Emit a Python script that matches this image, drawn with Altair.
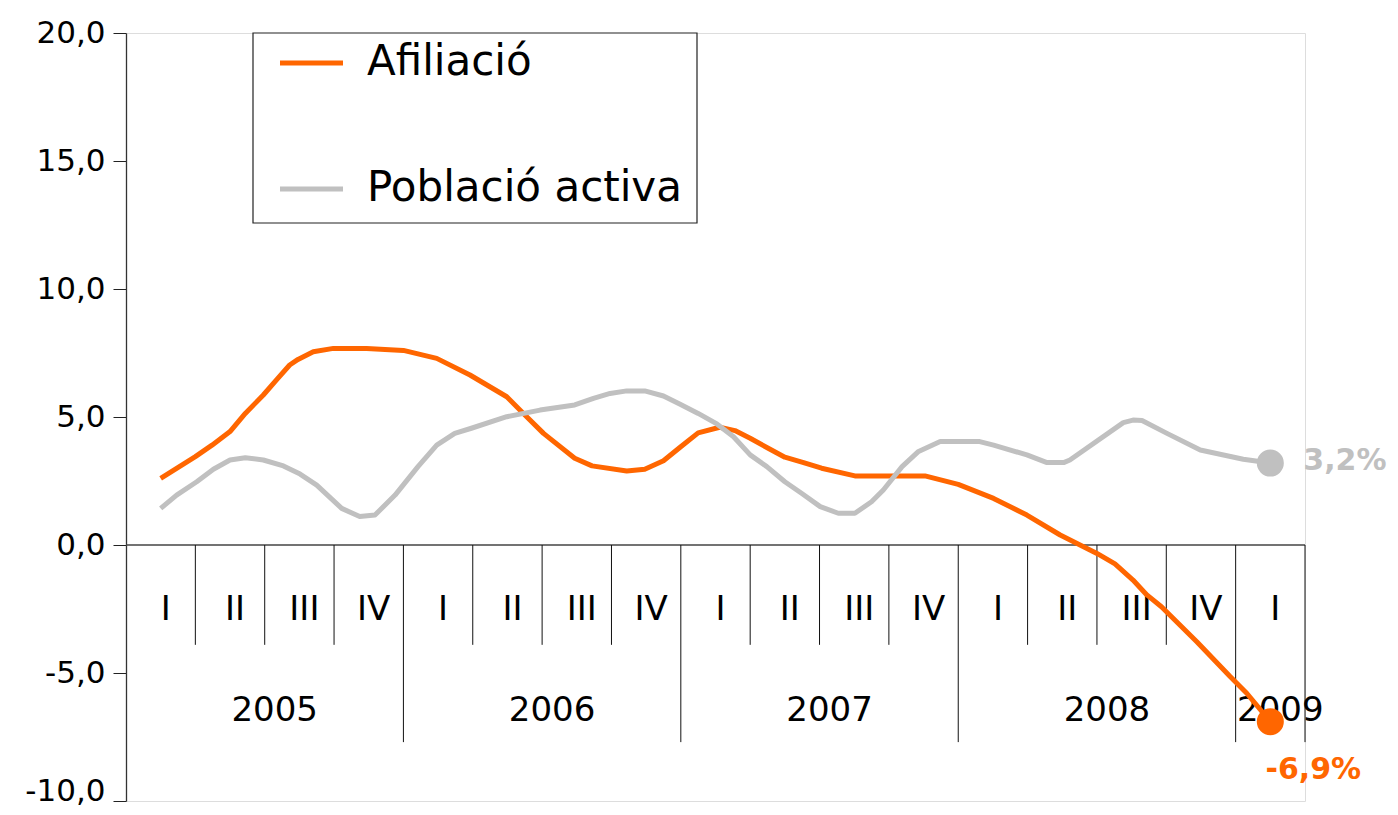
import altair as alt
import pandas as pd

# ---- data (time in quarters from 2005-Q1 start; value = % variation) ----
afil_t = [0.50, 1.00, 1.24, 1.50, 1.72, 1.98, 2.17, 2.36, 2.48, 2.70, 2.99, 3.47,
          4.00, 4.48, 4.96, 5.49, 5.73, 6.02, 6.47, 6.72, 7.22, 7.48, 7.75, 7.99,
          8.25, 8.56, 8.78, 9.00, 9.26, 9.50, 9.77, 10.03, 10.51, 11.52, 12.00,
          12.51, 12.99, 13.47, 14.00, 14.26, 14.52, 14.72, 14.93, 15.44, 15.92,
          16.16, 16.50]
afil_v = [2.60, 3.45, 3.90, 4.43, 5.14, 5.86, 6.45, 7.03, 7.25, 7.55, 7.68, 7.68,
          7.60, 7.29, 6.64, 5.79, 5.14, 4.36, 3.39, 3.09, 2.89, 2.96, 3.29, 3.82,
          4.38, 4.60, 4.47, 4.17, 3.78, 3.43, 3.22, 3.00, 2.70, 2.70, 2.37,
          1.82, 1.17, 0.39, -0.33, -0.74, -1.37, -1.95, -2.41, -3.78, -5.14,
          -5.79, -6.90]

pob_t = [0.50, 0.73, 1.02, 1.26, 1.50, 1.72, 1.98, 2.27, 2.51, 2.75, 3.11, 3.37,
         3.59, 3.88, 4.21, 4.48, 4.74, 4.98, 5.49, 5.97, 6.47, 6.74, 6.98, 7.22,
         7.48, 7.75, 7.99, 8.25, 8.52, 8.76, 9.00, 9.24, 9.50, 9.74, 10.01, 10.27,
         10.51, 10.75, 10.92, 11.19, 11.42, 11.74, 12.31, 12.51, 12.99, 13.28,
         13.52, 13.61, 14.38, 14.52, 14.65, 15.01, 15.49, 16.11, 16.50]
pob_v = [1.43, 1.95, 2.47, 2.96, 3.32, 3.41, 3.32, 3.09, 2.77, 2.34, 1.43, 1.11,
         1.17, 1.95, 3.06, 3.90, 4.36, 4.56, 5.01, 5.27, 5.47, 5.73, 5.92, 6.02,
         6.02, 5.82, 5.50, 5.14, 4.73, 4.23, 3.52, 3.06, 2.47, 2.02, 1.50, 1.24,
         1.24, 1.69, 2.15, 3.06, 3.64, 4.04, 4.04, 3.90, 3.52, 3.22,
         3.22, 3.32, 4.78, 4.88, 4.86, 4.36, 3.71, 3.35, 3.20]

series_names = ["Afiliació", "Població activa"]
series_colors = ["#FF6600", "#C0C0C0"]
end_labels = ["-6,9%", "3,2%"]

quarter_labels = ["I", "II", "III", "IV"] * 4 + ["I"]
year_labels = ["2005", "2006", "2007", "2008", "2009"]
year_lengths = [4, 4, 4, 4, 1]
y_ticks = [-10, -5, 0, 5, 10, 15, 20]

FONT = "DejaVu Sans"

# ---- tables ----
lines_df = pd.concat([
    pd.DataFrame({"t": afil_t, "v": afil_v, "serie": series_names[0]}),
    pd.DataFrame({"t": pob_t, "v": pob_v, "serie": series_names[1]}),
], ignore_index=True)

end_df = pd.DataFrame({
    "t": [afil_t[-1], pob_t[-1]],
    "v": [afil_v[-1], pob_v[-1]],
    "serie": series_names,
    "label": end_labels,
})

n_q = len(quarter_labels)
year_bounds = [0]
for L in year_lengths:
    year_bounds.append(year_bounds[-1] + L)

sep_rows = []
for k in range(1, n_q + 1):
    long_ = k in year_bounds
    sep_rows.append({"t": k, "y0": 0.0, "y1": -7.7 if long_ else -3.9})
sep_df = pd.DataFrame(sep_rows)

qlab_df = pd.DataFrame({"t": [k + 0.5 for k in range(n_q)], "label": quarter_labels, "y": -2.54})
ylab_df = pd.DataFrame({
    "t": [(year_bounds[i] + year_bounds[i + 1]) / 2 for i in range(len(year_labels))],
    "label": year_labels, "y": -6.48,
})
axis0_df = pd.DataFrame({"t": [0], "t2": [n_q], "y": [0]})

x_scale = alt.Scale(domain=[0, n_q], nice=False, zero=False)
y_scale = alt.Scale(domain=[-10, 20], nice=False)
color_scale = alt.Scale(domain=series_names, range=series_colors)

X = alt.X("t:Q", scale=x_scale, axis=None)

# zero line with the y axis on it
base_axis = alt.Chart(axis0_df).mark_rule(color="#444", strokeWidth=1.3).encode(
    x=X, x2="t2:Q",
    y=alt.Y("y:Q", scale=y_scale, axis=alt.Axis(
        values=y_ticks, title=None, grid=False,
        labelExpr="(datum.value < 0 ? '-' : '') + replace(format(abs(datum.value), '.1f'), '.', ',')",
        labelFont=FONT, labelFontSize=31, labelColor="#000",
        labelOffset={"condition": {"test": "datum.value == -10", "value": -10}, "value": 0},
        tickSize=13, tickColor="#222", domainColor="#333", domainWidth=1.3,
        labelPadding=8)),
)

seps = alt.Chart(sep_df).mark_rule(color="#111", strokeWidth=1).encode(
    x=X, y=alt.Y("y0:Q", scale=y_scale), y2="y1:Q")

qtext = alt.Chart(qlab_df).mark_text(font=FONT, fontSize=34, color="#000",
                                     baseline="middle", dx=5).encode(
    x=X, y=alt.Y("y:Q", scale=y_scale), text="label:N")

ytext = alt.Chart(ylab_df).mark_text(font=FONT, fontSize=34, color="#000",
                                     baseline="middle", dx=10).encode(
    x=X, y=alt.Y("y:Q", scale=y_scale), text="label:N")

lines = alt.Chart(lines_df).mark_line(strokeWidth=5, strokeJoin="round").encode(
    x=X, y=alt.Y("v:Q", scale=y_scale),
    color=alt.Color("serie:N", scale=color_scale, legend=None),
    detail="serie:N")

dots = alt.Chart(end_df).mark_circle(size=730, opacity=1).encode(
    x=X, y=alt.Y("v:Q", scale=y_scale),
    color=alt.Color("serie:N", scale=color_scale, legend=None))

lab_afil = alt.Chart(end_df).transform_filter(
    alt.datum.serie == series_names[0]).mark_text(
    font=FONT, fontSize=30, fontWeight="bold", color=series_colors[0],
    align="center", baseline="middle", dx=43, dy=48).encode(
    x=X, y=alt.Y("v:Q", scale=y_scale), text="label:N")

lab_pob = alt.Chart(end_df).transform_filter(
    alt.datum.serie == series_names[1]).mark_text(
    font=FONT, fontSize=30, fontWeight="bold", color=series_colors[1],
    align="left", baseline="middle", dx=33, dy=-2).encode(
    x=X, y=alt.Y("v:Q", scale=y_scale), text="label:N")

# ---- legend box (drawn by hand, top-left inside plot) ----
one = pd.DataFrame({"a": [0]})
leg_box = alt.Chart(one).mark_rect(fill="white", stroke="#222", strokeWidth=1.2).encode(
    x=alt.value(127), x2=alt.value(571), y=alt.value(0), y2=alt.value(190))
leg_layers = [leg_box]
for i, (name, col) in enumerate(zip(series_names, series_colors)):
    yy = 30 if i == 0 else 156
    leg_layers.append(alt.Chart(one).mark_rule(color=col, strokeWidth=5).encode(
        x=alt.value(154), x2=alt.value(217), y=alt.value(yy)))
    leg_layers.append(alt.Chart(one).mark_text(
        text=name, font=FONT, fontSize=42, color="#000", align="left",
        baseline="middle").encode(x=alt.value(241), y=alt.value(yy - 1)))

chart = alt.layer(
    base_axis, seps, qtext, ytext, *leg_layers, lines, dots, lab_afil, lab_pob
).properties(
    width=1179, height=768,
    autosize=alt.AutoSizeParams(type="none"),
    padding={"left": 118, "top": 25, "right": 85, "bottom": 6},
).configure_view(stroke="transparent", strokeWidth=0, strokeOpacity=0,
                 fill="white").configure(background="white")

chart.save("out.html", embed_options={"renderer": "svg", "actions": False})
